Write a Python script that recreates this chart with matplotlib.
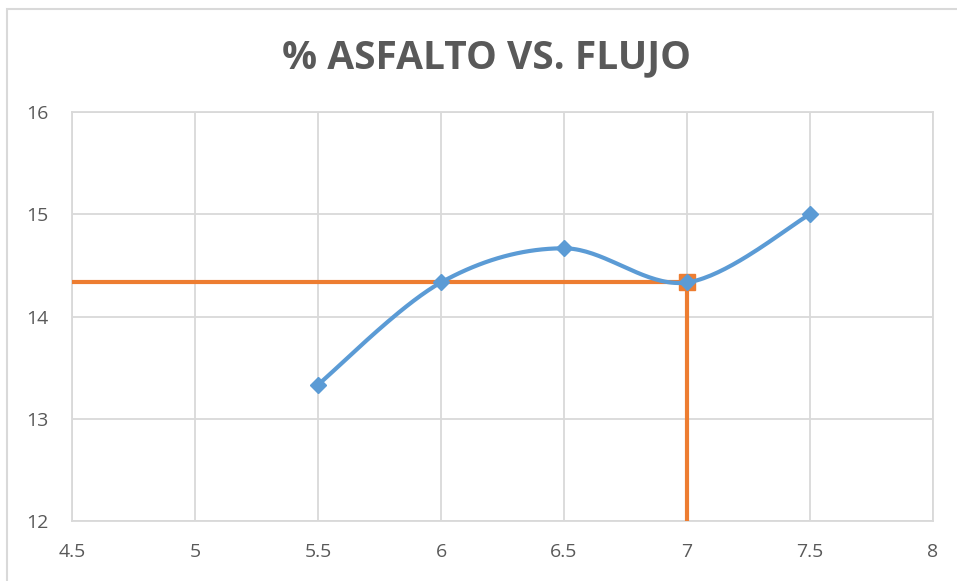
import matplotlib
matplotlib.use("Agg")
import matplotlib.pyplot as plt
import numpy as np
from matplotlib.patches import Rectangle

x_vals = [5.5, 6.0, 6.5, 7.0, 7.5]
y_vals = [13.333, 14.333, 14.667, 14.333, 15.0]
ref_x = 7.0
ref_y = 14.333
x_ticks = [4.5, 5, 5.5, 6, 6.5, 7, 7.5, 8]
x_tick_labels = ["4.5", "5", "5.5", "6", "6.5", "7", "7.5", "8"]
y_ticks = [12, 13, 14, 15, 16]
title = "% ASFALTO VS. FLUJO"

BLUE = "#5B9BD5"
ORANGE = "#ED7D31"
GRID = "#D9D9D9"
TXT = "#595959"

W, H = 957, 581
fig = plt.figure(figsize=(W / 100, H / 100), dpi=100)
fig.patch.set_facecolor("white")
fig.patches.append(Rectangle((7 / W, -0.1), 1.2, 1 - 9 / H + 0.1, transform=fig.transFigure,
                             fill=False, edgecolor="#D9D9D9", linewidth=1.5))

ax = fig.add_axes([72 / W, 1 - 521 / H, (933 - 72) / W, (521 - 112) / H])
ax.set_xlim(4.5, 8)
ax.set_ylim(12, 16)
ax.set_xticks(x_ticks)
ax.set_xticklabels(x_tick_labels)
ax.set_yticks(y_ticks)
ax.grid(True, color=GRID, linewidth=1.3)
ax.set_axisbelow(True)
for s in ax.spines.values():
    s.set_color(GRID)
    s.set_linewidth(1.3)
ax.tick_params(length=0, colors=TXT, labelsize=14)
ax.tick_params(axis="x", pad=16)
ax.tick_params(axis="y", pad=17)
for lbl in ax.get_xticklabels() + ax.get_yticklabels():
    lbl.set_fontfamily("Open Sans")

# orange reference lines
ax.plot([4.5, ref_x], [ref_y, ref_y], color=ORANGE, linewidth=3, solid_capstyle="butt", zorder=3)
ax.plot([ref_x, ref_x], [12, ref_y], color=ORANGE, linewidth=3, solid_capstyle="butt", zorder=3)
ax.plot([ref_x], [ref_y], marker="s", markersize=11, color=ORANGE, zorder=3, linestyle="none")

# Excel-style smooth curve (Bezier through points, computed in display space)
fig.canvas.draw()
pts = ax.transData.transform(np.column_stack([x_vals, y_vals]))
n = len(pts)
curve = []
t = np.linspace(0, 1, 40)
for i in range(n - 1):
    p0 = pts[i - 1] if i > 0 else pts[i]
    p1 = pts[i]
    p2 = pts[i + 1]
    p3 = pts[i + 2] if i + 2 < n else pts[i + 1]
    c1 = p1 + (p2 - p0) / 6
    c2 = p2 - (p3 - p1) / 6
    seg = ((1 - t)[:, None] ** 3 * p1 + 3 * ((1 - t) ** 2 * t)[:, None] * c1
           + 3 * ((1 - t) * t ** 2)[:, None] * c2 + (t ** 3)[:, None] * p2)
    curve.append(seg)
curve = np.vstack(curve)
cd = ax.transData.inverted().transform(curve)
ax.plot(cd[:, 0], cd[:, 1], color=BLUE, linewidth=3, zorder=4)
ax.plot(x_vals, y_vals, linestyle="none", marker="D", markersize=8.5, color=BLUE, zorder=5)

fig.text(487 / W, 1 - 58 / H, title, ha="center", va="center", fontsize=28,
         fontweight="bold", color=TXT, family="Open Sans")

fig.savefig("out.png", dpi=100)
